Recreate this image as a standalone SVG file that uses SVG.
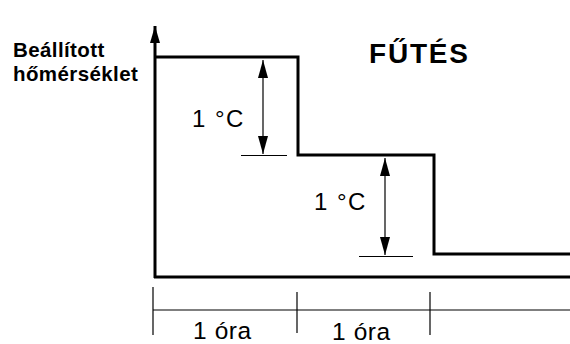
<svg xmlns="http://www.w3.org/2000/svg" width="570" height="344" viewBox="0 0 570 344">
<style>
.t{font-family:"Liberation Sans",Arial,sans-serif;fill:#000}
.b{font-weight:bold}
.thick{fill:none;stroke:#000;stroke-width:3;stroke-linejoin:miter}
.thin{fill:none;stroke:#000;stroke-width:1.2}
</style>
<defs>
<marker id="ah" viewBox="0 0 18 10" refX="18" refY="5" markerWidth="18" markerHeight="10" markerUnits="userSpaceOnUse" orient="auto-start-reverse">
<path d="M0,0 L18,5 L0,10 z" fill="#000"/>
</marker>
<marker id="ax" viewBox="0 0 17 10" refX="17" refY="5" markerWidth="17" markerHeight="10" markerUnits="userSpaceOnUse" orient="auto">
<path d="M0,0 L17,5 L0,10 z" fill="#000"/>
</marker>
</defs>
<g id="axes">
<line class="thick" x1="155" y1="278" x2="155" y2="26" marker-end="url(#ax)" stroke-width="2.5"/>
<line class="thick" x1="154" y1="277" x2="570" y2="277" stroke-width="2.5"/>
<text class="t b" x="13" y="57" font-size="20.5" letter-spacing="0.4">Beállított</text>
<text class="t b" x="13" y="81" font-size="20.5" letter-spacing="0.4">hőmérséklet</text>
</g>
<g id="curve">
<polyline class="thick" points="155,57 298,57 298,155 434,155 434,254 570,254"/>
</g>
<g id="title">
<text class="t b" x="369" y="63" font-size="28" letter-spacing="1.8">FŰTÉS</text>
</g>
<g id="connectors">
<line class="thin" x1="263" y1="60" x2="263" y2="154" marker-start="url(#ah)" marker-end="url(#ah)"/>
<line class="thin" x1="241" y1="155.5" x2="287" y2="155.5"/>
<line class="thin" x1="385" y1="158" x2="385" y2="255" marker-start="url(#ah)" marker-end="url(#ah)"/>
<line class="thin" x1="359" y1="256.5" x2="413" y2="256.5"/>
</g>
<g id="dim1">
<text class="t" x="192" y="127" font-size="24" letter-spacing="1.5">1 °C</text>
</g>
<g id="dim2">
<text class="t" x="314" y="210" font-size="24" letter-spacing="1.5">1 °C</text>
</g>
<g id="timeline">
<line class="thin" x1="153" y1="310" x2="570" y2="310"/>
<line class="thin" x1="153" y1="287" x2="153" y2="335" stroke-width="1.5"/>
<line class="thin" x1="297" y1="292" x2="297" y2="333" stroke-width="1.5"/>
<line class="thin" x1="430" y1="292" x2="430" y2="335" stroke-width="1.5"/>
<text class="t" x="193" y="339" font-size="24.5" letter-spacing="0.6">1 óra</text>
<text class="t" x="332" y="340" font-size="24.5" letter-spacing="0.6">1 óra</text>
</g>
</svg>
